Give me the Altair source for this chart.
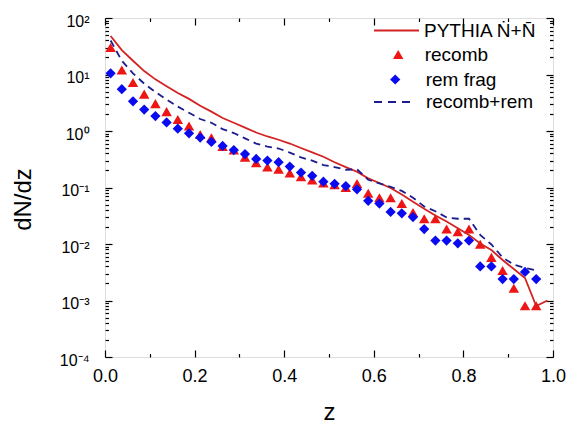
import altair as alt
import pandas as pd

# ---------------- data ----------------
z_pts = [0.0125, 0.0375, 0.0625, 0.0875, 0.1125, 0.1375, 0.1625, 0.1875, 0.2125, 0.2375,
         0.2625, 0.2875, 0.3125, 0.3375, 0.3625, 0.3875, 0.4125, 0.4375, 0.4625, 0.4875,
         0.5125, 0.5375, 0.5625, 0.5875, 0.6125, 0.6375, 0.6625, 0.6875, 0.7125, 0.7375,
         0.7625, 0.7875, 0.8125, 0.8375, 0.8625, 0.8875, 0.9125, 0.9375, 0.9625]
z_line = [0.0125, 0.0375, 0.0625, 0.0875, 0.1125, 0.1375, 0.1625, 0.1875, 0.2125, 0.2375,
          0.2625, 0.2875, 0.3125, 0.3375, 0.3625, 0.3875, 0.4125, 0.4375, 0.4625, 0.4875,
          0.5125, 0.5375, 0.5625, 0.5875, 0.6125, 0.6375, 0.6625, 0.6875, 0.7125, 0.7375,
          0.7625, 0.7875, 0.8125, 0.8375, 0.8625, 0.8875, 0.9125, 0.9375, 0.9625, 0.9875]

pythia = [48, 27, 17.5, 11.5, 8.2, 6.2, 4.7, 3.7, 2.8, 2.2,
          1.7, 1.4, 1.15, 0.94, 0.8, 0.7, 0.6, 0.5, 0.42, 0.35,
          0.28, 0.23, 0.19, 0.145, 0.12, 0.098, 0.075, 0.056, 0.042, 0.032,
          0.025, 0.019, 0.0145, 0.0102, 0.0078, 0.0052, 0.0036, 0.0025, 0.0008, 0.001]

recomb = [30, 12, 7.2, 4.5, 3.05, 2.2, 1.6, 1.23, 0.87, 0.76,
          0.53, 0.46, 0.345, 0.275, 0.23, 0.21, 0.18, 0.155, 0.136, 0.12,
          0.112, 0.10, 0.118, 0.079, 0.066, 0.066, 0.052, 0.036, 0.028, 0.028,
          0.0184, 0.0165, 0.0184, 0.0099, 0.0058, 0.0034, 0.00165, 0.00081, 0.00081]

rem_frag = [10.5, 5.5, 3.35, 2.4, 1.84, 1.42, 1.1, 0.91, 0.765, 0.64,
            0.545, 0.46, 0.39, 0.32, 0.30, 0.28, 0.235, 0.184, 0.161, 0.127,
            0.116, 0.106, 0.093, 0.058, 0.052, 0.037, 0.035, 0.030, 0.0184, 0.0115,
            0.0115, 0.0103, 0.0115, 0.004, 0.004, 0.0024, 0.0024, 0.0032, 0.0024]

recomb_rem = [40, 17.5, 10.5, 6.9, 4.9, 3.6, 2.7, 2.1, 1.63, 1.4,
              1.08, 0.92, 0.74, 0.6, 0.53, 0.49, 0.415, 0.34, 0.30, 0.25,
              0.23, 0.206, 0.21, 0.137, 0.118, 0.103, 0.087, 0.066, 0.046, 0.038,
              0.0295, 0.028, 0.028, 0.0145, 0.0098, 0.0058, 0.0043, 0.0038, 0.0034]

labels = ["PYTHIA \u1E44+N\u0304", "recomb", "rem frag", "recomb+rem"]

x_major = [0.0, 0.2, 0.4, 0.6, 0.8, 1.0]
x_minor = [0.1, 0.3, 0.5, 0.7, 0.9]
y_major = [1e-4, 1e-3, 1e-2, 1e-1, 1.0, 10.0, 100.0]
y_minor = [m * d for d in [1e-4, 1e-3, 1e-2, 1e-1, 1.0, 10.0] for m in range(2, 10)]

# ---------------- styling ----------------
FONT = "Liberation Sans"
C_LINE = "#d42222"
C_TRI = "#ee1515"
C_DIA = "#0a0aee"
C_DASH = "#1c1c8e"

df_line = pd.DataFrame({"z": z_line, "v": pythia, "s": labels[0]})
df_rec = pd.DataFrame({"z": z_pts, "v": recomb, "s": labels[1]})
df_rem = pd.DataFrame({"z": z_pts, "v": rem_frag, "s": labels[2]})
df_sum = pd.DataFrame({"z": z_pts, "v": recomb_rem, "s": labels[3]})

xscale = alt.Scale(domain=[0, 1], nice=False, zero=False)
yscale = alt.Scale(type="log", domain=[1e-4, 100], nice=False)


def ax(orient, values, size, **kw):
    d = dict(orient=orient, values=values, tickSize=size, offset=-size, domain=False,
             grid=False, ticks=True, tickColor="black", tickWidth=1.2, labels=False)
    d.update(kw)
    return alt.Axis(**d)


ylab_expr = ("datum.value >= 50 ? '10\u00b2' : datum.value >= 5 ? '10\u00b9' : "
             "datum.value >= 0.5 ? '10\u2070' : datum.value >= 0.05 ? '10\u207b\u00b9' : "
             "datum.value >= 0.005 ? '10\u207b\u00b2' : datum.value >= 0.0005 ? '10\u207b\u00b3' : '10\u207b\u2074'")


def leg(x, y, **kw):
    d = dict(orient="none", legendX=x, legendY=y, title=None, padding=0,
             labelFontSize=19, labelFont=FONT, labelColor="black")
    d.update(kw)
    return alt.Legend(**d)


def col(i, c, lg):
    return alt.Color("s:N", scale=alt.Scale(domain=[labels[i]], range=[c]), legend=lg)


tri = alt.Chart(df_rec).mark_point(filled=True, shape="triangle-up", size=110, opacity=1).encode(
    x=alt.X("z:Q", scale=xscale, title=None, axis=ax("top", x_major, 7)),
    y=alt.Y("v:Q", scale=yscale, title=None, axis=ax("right", y_major, 7)),
    color=col(1, C_TRI, leg(273.7, 27, symbolType="triangle-up", symbolSize=110,
                            symbolOffset=10, labelOffset=17)),
)

dia = alt.Chart(df_rem).mark_point(filled=True, shape="diamond", size=105, opacity=1).encode(
    x=alt.X("z:Q", scale=xscale, title=None, axis=ax("bottom", x_minor, 3.5)),
    y=alt.Y("v:Q", scale=yscale, title=None, axis=ax("left", y_minor, 3.5)),
    color=col(2, C_DIA, leg(280.7, 52, symbolType="diamond", symbolSize=105, labelOffset=21)),
)

line = alt.Chart(df_line).mark_line(strokeWidth=1.8, clip=True).encode(
    x=alt.X("z:Q", scale=xscale, title="z",
            axis=ax("bottom", x_major, 7, labels=True, format=".1f", labelFontSize=18,
                    labelFont=FONT, labelColor="black", labelPadding=10, labelFlush=False,
                    titleFont=FONT, titleFontSize=24, titleFontWeight="normal",
                    titleColor="black", titlePadding=15)),
    y=alt.Y("v:Q", scale=yscale, title="dN/dz",
            axis=ax("left", y_major, 7, labels=True, labelExpr=ylab_expr, labelFontSize=16,
                    labelFont=FONT, labelColor="black", labelPadding=16, labelFlush=False,
                    labelOffset=3, labelOverlap=False,
                    titleFont=FONT, titleFontSize=24, titleFontWeight="normal",
                    titleColor="black", titlePadding=24, titleY=181)),
    color=col(0, C_LINE, leg(268, -11, symbolType="stroke", symbolSize=2025,
                             symbolStrokeWidth=2, labelOffset=4)),
)

dash = alt.Chart(df_sum).mark_line(strokeWidth=1.8, strokeDash=[7, 5], clip=True).encode(
    x=alt.X("z:Q", scale=xscale, title=None, axis=ax("top", x_minor, 3.5)),
    y=alt.Y("v:Q", scale=yscale, title=None, axis=ax("right", y_minor, 3.5)),
    color=col(3, C_DASH, leg(268, 62, symbolType="stroke", symbolSize=1764,
                             symbolStrokeWidth=2, symbolDash=[8, 6], labelOffset=9)),
)

chart = (
    alt.layer(tri, dia, line, dash)
    .resolve_scale(color="independent")
    .resolve_axis(x="independent", y="independent")
    .properties(width=448, height=339,
                autosize=alt.AutoSizeParams(type="none"),
                padding={"left": 105, "top": 18, "right": 14, "bottom": 67})
    .configure_view(stroke="black", strokeWidth=1.5)
    .configure(font=FONT, background="white")
)

chart.save("out.html", embed_options={"renderer": "svg", "actions": False})
